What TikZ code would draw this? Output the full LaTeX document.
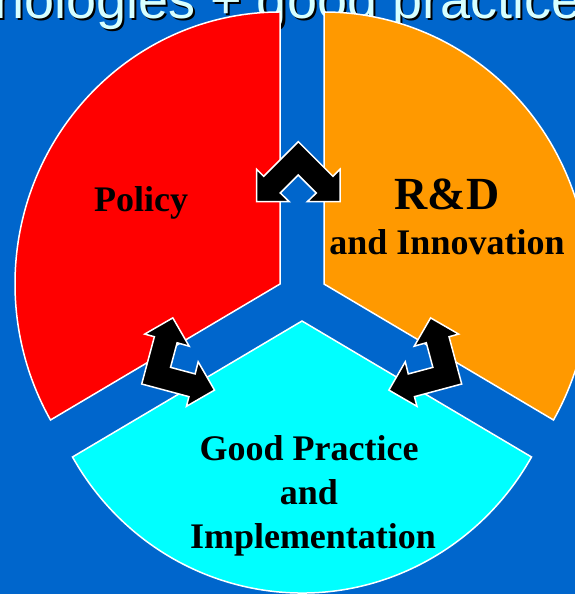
\documentclass[tikz,border=0pt]{standalone}
\usepackage{fontspec}
\setmainfont{Liberation Serif}
\newfontfamily\titlefont{Liberation Sans}
\usetikzlibrary{positioning}
\tikzstyle{sector} = [draw=white, line width=1.5pt, line join=miter]
\tikzstyle{bentarrow} = [draw=white, fill=black, line width=1.5pt, line join=miter]
\tikzstyle{lbl} = [inner sep=0pt, font=\fontsize{36}{44}\selectfont\bfseries, anchor=base]
\newcommand{\dblarrow}[2]{%
  \draw[bentarrow, shift={#1}, rotate=#2] (0,0) -- (34.6,-34.6) -- (41.7,-27.6)
    -- (41.7,-60) -- (9,-60) -- (18,-51.3) -- (0,-33.3) -- (-18,-51.3)
    -- (-9,-60) -- (-41.7,-60) -- (-41.7,-27.6) -- (-34.6,-34.6) -- cycle;}

\begin{document}
\begin{tikzpicture}[x=1pt,y=1pt]
\definecolor{bgblue}{RGB}{0,102,204}
\definecolor{pieorange}{RGB}{255,153,0}
\definecolor{piecyan}{RGB}{0,255,255}
\definecolor{titlecyan}{RGB}{215,255,255}
 \useasboundingbox (0,0) rectangle (575,594);
 \clip (0,0) rectangle (575,594);
 \fill[bgblue] (0,0) rectangle (575,594);

    % Title, cut at the top
    \node (titleshadow) [inner sep=0pt, anchor=base east, font=\titlefont\fontsize{54}{64}\selectfont]
        at (584,573) {nologies + good practice};
    \node (title) [inner sep=0pt, anchor=base east, text=titlecyan, font=\titlefont\fontsize{54}{64}\selectfont]
        at (581.5,575.5) {nologies + good practice};

    % Draw the three sectors
    \draw[sector, fill=red] (280,310) -- +(0,272)
        arc[start angle=90, end angle=210, x radius=265, y radius=272] -- cycle;
    \draw[sector, fill=pieorange] (324,310) -- +(229.5,-136)
        arc[start angle=-30, end angle=90, x radius=265, y radius=272] -- cycle;
    \draw[sector, fill=piecyan] (302,273) -- +(-229.5,-136)
        arc[start angle=210, end angle=330, x radius=265, y radius=272] -- cycle;

    % Draw the bent arrows
    \dblarrow{(298.3,452.3)}{0}
    \dblarrow{(141.7,210)}{120}
    \dblarrow{(461.7,210)}{-120}

    \node[lbl] (policy) at (141,382) {Policy};
    \node[lbl, font=\fontsize{46}{54}\selectfont\bfseries] (rd) at (447,384) {R\&D};
    \node[lbl] (innov) at (447,339) {and Innovation};
    \node[lbl] (good) at (309,133) {Good Practice};
    \node[lbl] (and) at (309,89) {and};
    \node[lbl] (impl) at (313,45) {Implementation};

\end{tikzpicture}
\end{document}
